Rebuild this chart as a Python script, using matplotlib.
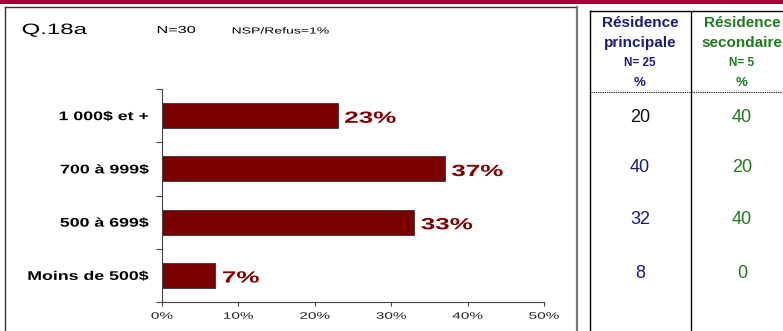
import matplotlib
matplotlib.use("Agg")
import matplotlib.pyplot as plt
from matplotlib.patches import Rectangle
from matplotlib.lines import Line2D
from matplotlib.patheffects import AbstractPathEffect
from matplotlib.transforms import Affine2D

plt.rcParams['font.family'] = ['Liberation Sans', 'DejaVu Sans']

categories = ["1 000$ et +", "700 à 999$", "500 à 699$", "Moins de 500$"]
values = [23, 37, 33, 7]
xticks = [0, 10, 20, 30, 40, 50]
col1_values = ["20", "40", "32", "8"]
col2_values = ["40", "20", "40", "0"]
col1_header = ["Résidence", "principale"]
col2_header = ["Résidence", "secondaire"]
col1_n = "N= 25"
col2_n = "N= 5"


class HStretch(AbstractPathEffect):
    """Stretch drawn text horizontally (the reference's chart text is widened)."""

    def __init__(self, sx, anchor="left"):
        super().__init__()
        self.sx = sx
        self.anchor = anchor

    def draw_path(self, renderer, gc, tpath, affine, rgbFace=None):
        if len(tpath.vertices) == 0:
            return
        bb = tpath.get_extents(affine)
        x0 = {"left": bb.x0, "right": bb.x1, "center": 0.5 * (bb.x0 + bb.x1)}[self.anchor]
        a = affine + Affine2D().translate(-x0, 0).scale(self.sx, 1).translate(x0, 0)
        renderer.draw_path(gc, tpath, a, rgbFace)


W, H = 783, 331
fig = plt.figure(figsize=(W / 100, H / 100), dpi=100)


def fx(px):
    return px / W


def fy(py):
    return 1 - py / H


BAR = "#7B0000"
NAVY = "#1B1B7A"
GREEN = "#1E7B1E"

# top band
fig.patches.append(Rectangle((0, fy(4)), 1, 4 / H, transform=fig.transFigure,
                             facecolor="#9E0036", edgecolor="none", zorder=0))

# left frame
fig.add_artist(Line2D([fx(5), fx(5)], [fy(7), 0], transform=fig.transFigure, color="#333333", lw=1.0))
fig.add_artist(Line2D([fx(5), fx(577)], [fy(7), fy(7)], transform=fig.transFigure, color="#333333", lw=1.0))
fig.add_artist(Line2D([fx(577), fx(577)], [fy(7), 0], transform=fig.transFigure, color="#777777", lw=1.6))

# right frame
fig.add_artist(Line2D([fx(590), fx(590)], [fy(11), 0], transform=fig.transFigure, color="black", lw=1.0))
fig.add_artist(Line2D([fx(590), 1], [fy(11), fy(11)], transform=fig.transFigure, color="black", lw=1.0))
fig.add_artist(Line2D([fx(691), fx(691)], [fy(11), 0], transform=fig.transFigure, color="black", lw=1.0))
fig.add_artist(Line2D([fx(591), 1], [fy(92), fy(92)], transform=fig.transFigure, color="black",
                      lw=0.8, ls=(0, (1, 1))))

# header texts
fig.text(fx(22), fy(30), "Q.18a", fontsize=10.8, va="center", ha="left",
         path_effects=[HStretch(1.6, "left")])
fig.text(fx(157), fy(30), "N=30", fontsize=7.3, va="center", ha="left",
         path_effects=[HStretch(1.6, "left")])
fig.text(fx(232), fy(31), "NSP/Refus=1%", fontsize=6.3, va="center", ha="left",
         path_effects=[HStretch(1.6, "left")])

# bar chart
ax = fig.add_axes([fx(162), fy(302), fx(544) - fx(162), (302 - 89) / H])
ypos = list(range(len(categories)))
ax.barh(ypos, values, height=0.47, color=BAR, edgecolor="#333333", linewidth=0.6)
ax.set_xlim(0, 50)
ax.set_ylim(len(categories) - 0.5, -0.5)
ax.set_xticks(xticks)
ax.set_xticklabels([f"{t}%" for t in xticks], fontsize=6.7, color="#222222")
ax.set_yticks([y - 0.5 for y in range(len(categories) + 1)])
ax.set_yticklabels([])
ax.set_yticks(ypos, minor=True)
ax.set_yticklabels(categories, minor=True, fontsize=9, fontweight="bold")
ax.tick_params(axis="y", which="minor", length=0, pad=9.5)
ax.tick_params(axis="y", which="major", length=4.3, width=0.8, color="#444444")
ax.tick_params(axis="x", length=3, width=0.8, color="#444444", pad=4)
for s in ["top", "right"]:
    ax.spines[s].set_visible(False)
ax.spines["left"].set_color("#444444")
ax.spines["bottom"].set_color("#444444")
for lbl in ax.get_xticklabels():
    lbl.set_path_effects([HStretch(1.65, "center")])
for lbl in ax.get_yticklabels(minor=True):
    lbl.set_path_effects([HStretch(1.42, "right")])
for y, v in zip(ypos, values):
    ax.text(v + 0.9, y + 0.05, f"{v}%", fontsize=11.7, fontweight="bold", color=BAR,
            va="center", ha="left", path_effects=[HStretch(1.6, "left")])

# table
c1, c2 = fx(640), fx(742)
for cx, hdr, n, col in [(c1, col1_header, col1_n, NAVY), (c2, col2_header, col2_n, GREEN)]:
    fig.text(cx, fy(23), hdr[0], fontsize=11, fontweight="bold", color=col, ha="center", va="center")
    fig.text(cx, fy(43), hdr[1], fontsize=11, fontweight="bold", color=col, ha="center", va="center")
    fig.text(cx, fy(63), n, fontsize=8.5, fontweight="bold", color=col, ha="center", va="center")
    fig.text(cx, fy(83), "%", fontsize=9.5, fontweight="bold", color=col, ha="center", va="center")

row_y = [117, 167, 219, 273]
for i, (a, b) in enumerate(zip(col1_values, col2_values)):
    fig.text(c1, fy(row_y[i]), a, fontsize=13, color="#111111" if i == 0 else NAVY,
             ha="center", va="center")
    fig.text(c2, fy(row_y[i]), b, fontsize=13, color=GREEN, ha="center", va="center")

fig.savefig("out.png", dpi=100)
